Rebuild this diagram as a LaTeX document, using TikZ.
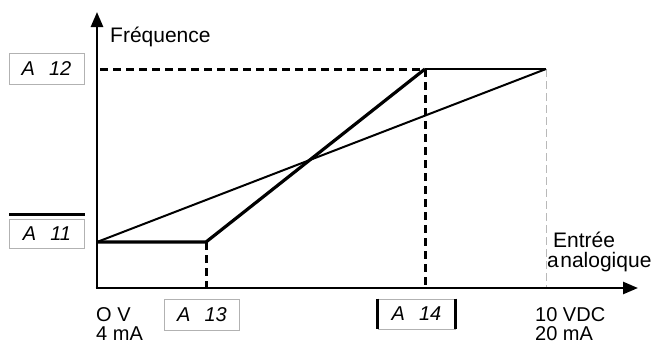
\documentclass[tikz,border=0pt]{standalone}
\usepackage{fontspec}
\setmainfont{Liberation Sans}
\usetikzlibrary{arrows.meta}
\tikzset{
  axis/.style={line width=2.6pt,-{Triangle[length=15pt,width=12pt]}},
  thinline/.style={line width=2pt},
  thickline/.style={line width=3.2pt,line join=miter},
  dashline/.style={line width=3pt,dash pattern=on 8pt off 5pt},
  greydash/.style={line width=0.8pt,draw=gray!55,dash pattern=on 8pt off 4pt},
  parbox/.style={draw=gray!60,line width=0.8pt,minimum width=75pt,minimum height=31pt,inner sep=0pt,font=\fontsize{20}{21}\selectfont\itshape},
  lbl/.style={font=\fontsize{21}{23}\selectfont,inner sep=0pt,anchor=base west},
  lbltwo/.style={font=\fontsize{20}{18.5}\selectfont,inner sep=0pt,anchor=base west,align=left}
}
\begin{document}
\begin{tikzpicture}[x=1pt,y=-1pt]
\useasboundingbox (0,0) rectangle (666,343);
% key points
\coordinate (O) at (97,288);
\coordinate (Ytip) at (97,12);
\coordinate (Xtip) at (638,288);
\coordinate (P11) at (97,242);
\coordinate (P13) at (206,242);
\coordinate (P14) at (425,69);
\coordinate (P10) at (546,69);
\coordinate (Y12) at (100,69);
\coordinate (X13) at (206,288);
\coordinate (X14) at (425,288);
\coordinate (X10) at (546,288);
% dashed guides
\draw[dashline] (Y12) -- (P14);
\draw[dashline] (P14) -- (X14);
\draw[dashline] (P13) -- (X13);
\draw[greydash] (P10) -- (X10);
% curves
\draw[thinline] (P11) -- (P10);
\draw[thickline] (P11) -- (P13) -- (P14);
\draw[line width=2.6pt] (P14) -- (P10);
% axes
\draw[axis] (O) -- (Ytip);
\draw[axis] ([xshift=-1.3pt]O) -- (Xtip);
% parameter boxes
\node[parbox] (a12) at (46.5,69) {A\hspace{0.7em}12};
\node[parbox,minimum height=29pt] (a11) at (47,233.5) {A\hspace{0.7em}11};
\draw[line width=3pt] (a11.north west)++(0,-4) coordinate (b11) -- (b11 -| a11.north east);
\node[parbox] (a13) at (202,314.5) {A\hspace{0.7em}13};
\node[parbox,minimum width=77pt,minimum height=30pt] (a14) at (416.5,314) {A\hspace{0.7em}14};
\draw[line width=3pt] (a14.north west) -- (a14.south west);
\draw[line width=3pt] (a14.north east) -- (a14.south east);
% labels
\node[lbl] (freq) at (110,42) {Fréquence};
\node[lbltwo] (ov) at (96,340) {O V\\4 mA};
\node[lbltwo] (vdc) at (535,340) {10 VDC\\20 mA};
\node[lbl] (entree) at (553,247) {Entrée};
\node[lbl] (analog) at (547,267) {a\kern1.5pt nalogique};
\end{tikzpicture}
\end{document}
